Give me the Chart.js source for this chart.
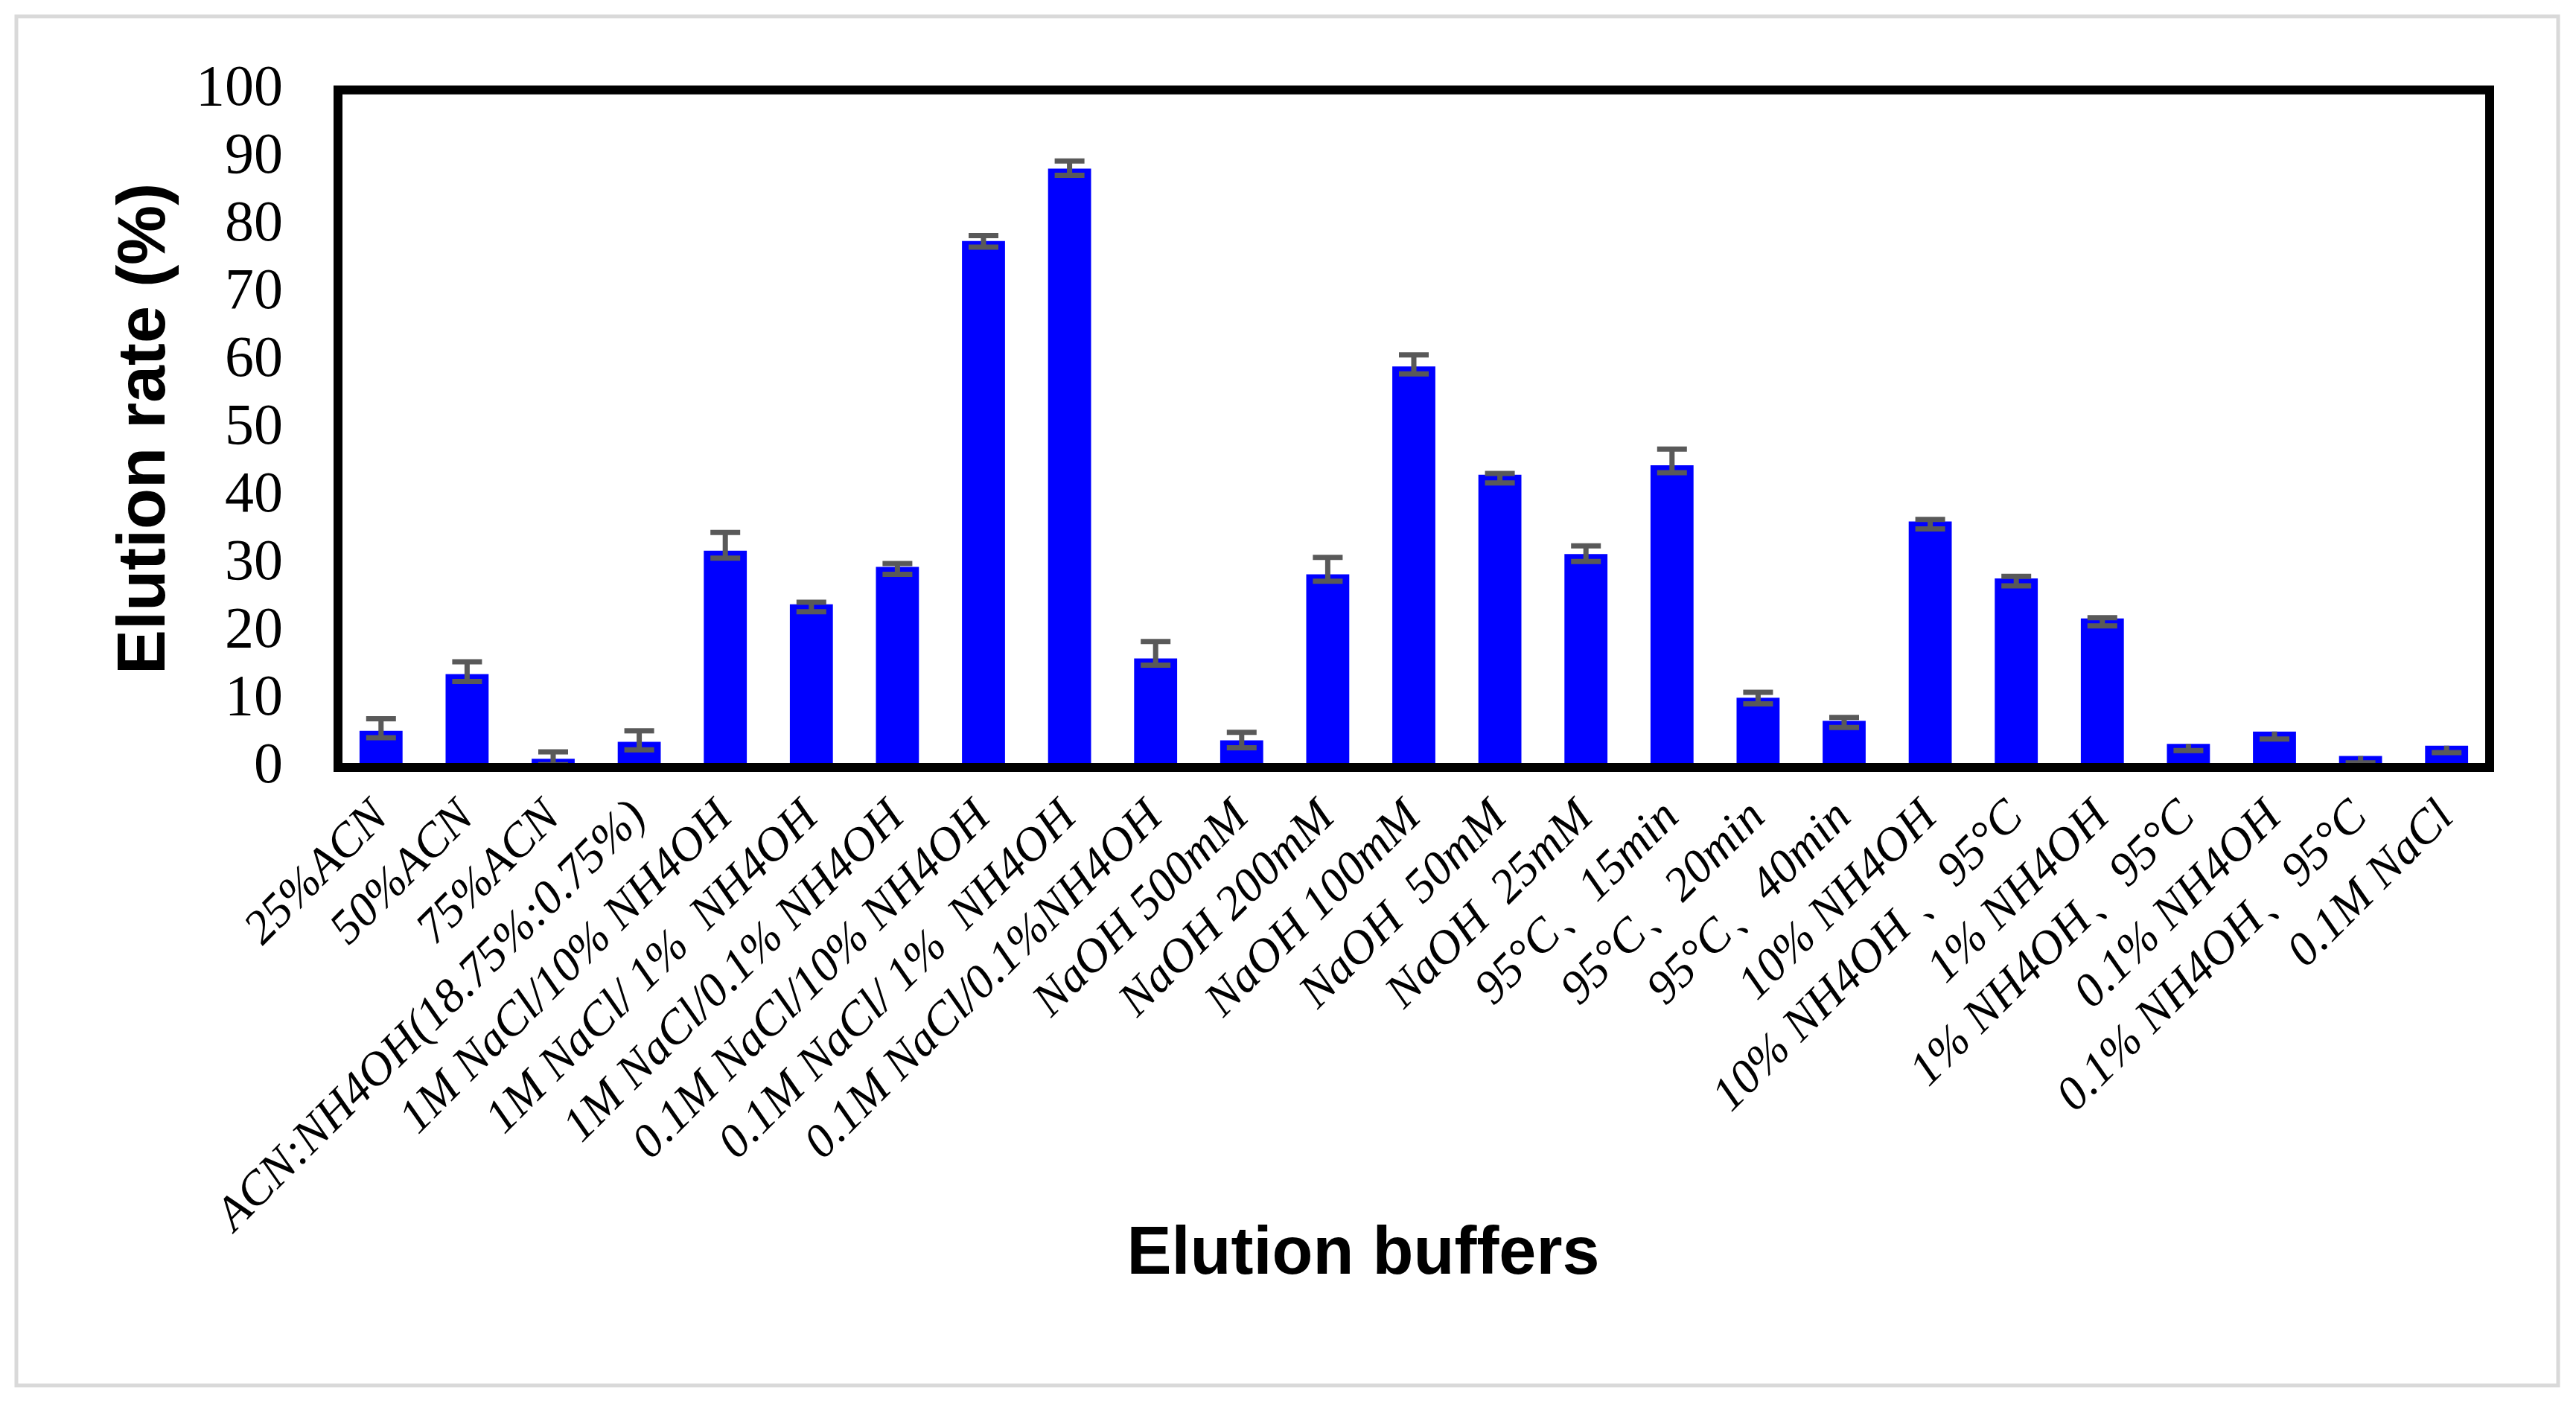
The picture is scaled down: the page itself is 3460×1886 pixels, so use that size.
<!DOCTYPE html>
<html lang="en">
<head>
<meta charset="UTF-8">
<title>Elution rate by elution buffer</title>
<script src="https://cdn.jsdelivr.net/npm/chart.js"></script>
<style>
  html, body { margin: 0; padding: 0; background: #fff; }
  #chart { display: block; }
</style>
</head>
<body>
<canvas id="chart" width="3460" height="1886"></canvas>
<script>
const buffers = [
  '25%ACN', '50%ACN', '75%ACN', 'ACN:NH4OH(18.75%:0.75%)',
  '1M NaCl/10% NH4OH', '1M NaCl/ 1%  NH4OH', '1M NaCl/0.1% NH4OH',
  '0.1M NaCl/10% NH4OH', '0.1M NaCl/ 1%  NH4OH', '0.1M NaCl/0.1%NH4OH',
  'NaOH 500mM', 'NaOH 200mM', 'NaOH 100mM', 'NaOH  50mM', 'NaOH  25mM',
  '95°C、15min', '95°C、20min', '95°C、40min',
  '10% NH4OH', '10% NH4OH 、95°C', '1% NH4OH', '1% NH4OH、95°C',
  '0.1% NH4OH', '0.1% NH4OH、95°C', '0.1M NaCl'
];
const elutionRate = [5.4, 13.8, 1.3, 3.8, 32.0, 24.1, 29.6, 77.7, 88.4, 16.1,
  4.0, 28.5, 59.2, 43.2, 31.5, 44.6, 10.3, 6.9, 36.3, 27.9, 22.0, 3.5, 5.3, 1.7, 3.2];
const errorPlus = [1.8, 1.8, 1.0, 1.6, 2.7, 0.3, 0.5, 0.8, 1.1, 2.5,
  1.2, 2.5, 1.7, 0.2, 1.2, 2.4, 0.8, 0.5, 0.3, 0.3, 0.1, 0, 0, 0, 0];
const errorMinus = [1.0, 1.1, 0.9, 1.2, 1.1, 1.1, 1.1, 0.9, 1.0, 1.0,
  1.1, 1.0, 1.1, 1.2, 1.1, 1.1, 0.9, 1.0, 1.1, 1.1, 1.1, 1.0, 1.1, 1.0, 1.0];
const yMin = 0, yMax = 100, yStep = 10;

const yTitle = 'Elution rate (%)';
const xTitle = 'Elution buffers';

// white page with the light grey outer frame
const pageFrame = {
  id: 'pageFrame',
  beforeDraw(chart) {
    const c = chart.ctx;
    c.save();
    c.fillStyle = '#fff';
    c.fillRect(0, 0, chart.width, chart.height);
    c.strokeStyle = '#d9d9d9';
    c.lineWidth = 5;
    c.strokeRect(22, 22, chart.width - 46, chart.height - 47);
    c.restore();
  }
};

// grey error bars on top of the bars
const errorBars = {
  id: 'errorBars',
  afterDatasetsDraw(chart) {
    const c = chart.ctx, y = chart.scales.y;
    const bars = chart.getDatasetMeta(0).data;
    c.save();
    c.strokeStyle = '#595959';
    c.lineWidth = 7;
    bars.forEach((bar, i) => {
      const v = elutionRate[i];
      const top = y.getPixelForValue(v + errorPlus[i]);
      const bot = y.getPixelForValue(v - errorMinus[i]);
      c.beginPath();
      c.moveTo(bar.x, top);
      c.lineTo(bar.x, bot);
      c.moveTo(bar.x - 20, bot);
      c.lineTo(bar.x + 20, bot);
      if (errorPlus[i] > 0) {
        c.moveTo(bar.x - 20, top);
        c.lineTo(bar.x + 20, top);
      }
      c.stroke();
    });
    c.restore();
  }
};

// black box round the plot and the two axis titles
const plotBox = {
  id: 'plotBox',
  afterDraw(chart) {
    const c = chart.ctx, a = chart.chartArea;
    c.save();
    c.strokeStyle = '#000';
    c.lineWidth = 12;
    c.strokeRect(a.left, a.top, a.right - a.left, a.bottom - a.top);

    c.fillStyle = '#000';
    c.font = 'bold 90px "Liberation Sans", Arial, sans-serif';
    c.textAlign = 'center';
    c.textBaseline = 'alphabetic';
    c.fillText(xTitle, (a.left + a.right) / 2 - 68, 1711);

    c.translate(221, (a.top + a.bottom) / 2);
    c.rotate(-Math.PI / 2);
    c.fillText(yTitle, 0, 0);
    c.restore();
  }
};

new Chart(document.getElementById('chart'), {
  type: 'bar',
  data: {
    labels: buffers,
    datasets: [{
      data: elutionRate,
      backgroundColor: '#0000ff',
      borderWidth: 0,
      barPercentage: 0.5,
      categoryPercentage: 1
    }]
  },
  options: {
    responsive: false,
    animation: false,
    devicePixelRatio: 1,
    layout: { padding: { left: 0, top: 114, right: 116, bottom: 0 } },
    plugins: {
      legend: { display: false },
      tooltip: { enabled: false }
    },
    scales: {
      x: {
        grid: { display: false, drawTicks: false },
        border: { display: false },
        afterFit(scale) { scale.height = 1886 - 1031; },
        ticks: {
          autoSkip: false,
          maxRotation: 45,
          minRotation: 45,
          padding: 30,
          color: '#000',
          font: { family: '"Liberation Serif", "Times New Roman", serif', style: 'italic', size: 64 }
        }
      },
      y: {
        min: yMin,
        max: yMax,
        grid: { display: false, drawTicks: false },
        border: { display: false },
        afterFit(scale) { scale.width = 454; },
        ticks: {
          stepSize: yStep,
          autoSkip: false,
          padding: 74,
          color: '#000',
          font: { family: '"Liberation Serif", "Times New Roman", serif', size: 78 }
        }
      }
    }
  },
  plugins: [pageFrame, errorBars, plotBox]
});
</script>
</body>
</html>
